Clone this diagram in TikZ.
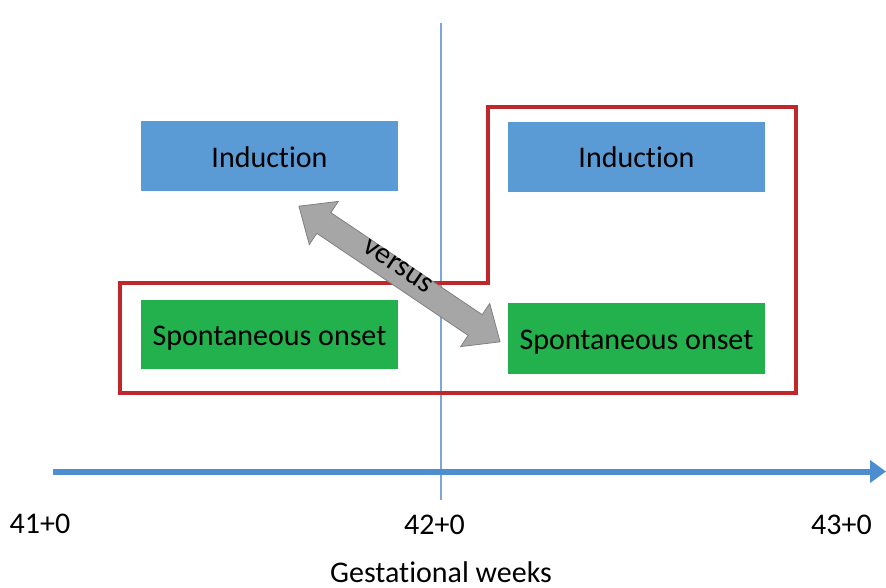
\documentclass[tikz,border=0pt]{standalone}
\usepackage{fontspec}
\setmainfont{Carlito}[Ligatures=NoCommon]
\usetikzlibrary{arrows.meta}
\definecolor{boxblue}{RGB}{91,155,213}
\definecolor{boxgreen}{RGB}{34,177,76}
\definecolor{outlinered}{RGB}{192,39,45}
\definecolor{axisblue}{RGB}{76,142,207}
\definecolor{thinblue}{RGB}{125,167,216}
\definecolor{arrowgray}{RGB}{166,166,166}
\definecolor{arrowedge}{RGB}{128,128,128}
\tikzset{
  bigfont/.style={font=\fontsize{30}{35}\selectfont},
  blockbox/.style={bigfont, minimum width=257pt, inner sep=0pt, text height=22pt, text depth=0pt, text=black},
  indbox/.style={blockbox, fill=boxblue, minimum height=70pt},
  sponbox/.style={blockbox, fill=boxgreen, minimum height=69pt},
  axlabel/.style={bigfont, anchor=base, inner sep=0pt},
}
\begin{document}
\begin{tikzpicture}[x=1pt,y=-1pt]
\useasboundingbox[fill=white] (0,0) rectangle (886,587);
% thin vertical line at 42+0
\coordinate (vtop) at (441,23);
\coordinate (vbot) at (441,500);
\draw[thinblue, line width=1.1pt] (vtop) -- (vbot);
% boxes
\node[indbox] (indL) at (269.5,156) {Induction};
\node[sponbox] (spoL) at (269.5,334) {Spontaneous onset};
\node[indbox] (indR) at (636.5,156.5) {Induction};
\node[sponbox, minimum height=71pt] (spoR) at (636.5,338.5) {Spontaneous onset};
% red outline
\draw[outlinered, line width=3.5pt, line join=miter]
  (120,283) -- (488,283) -- (488,107) -- (796,107) -- (796,393) -- (120,393) -- cycle;
% gray double block arrow
\begin{scope}[shift={(399.5,274)}, rotate=-34]
  \draw[fill=arrowgray, draw=arrowedge, line width=0.8pt, line join=miter]
    (-121.3,0) -- (-91.3,26) -- (-91.3,12.5) -- (91.3,12.5) -- (91.3,26) -- (121.3,0)
    -- (91.3,-26) -- (91.3,-12.5) -- (-91.3,-12.5) -- (-91.3,-26) -- cycle;
  \node[bigfont, inner sep=0pt, rotate=-34] (vs) at (-5.7,-5.8) {versus};
\end{scope}
% time axis
\coordinate (axs) at (53,471.5);
\coordinate (axe) at (886,471.5);
\draw[axisblue, line width=6pt, -{Triangle[length=16pt,width=22pt]}] (axs) -- (axe);
% labels
\node[axlabel] (l41) at (40,533) {41+0};
\node[axlabel] (l42) at (434.5,534) {42+0};
\node[axlabel] (l43) at (841.5,534) {43+0};
\node[axlabel] (gw) at (441,582) {Gestational weeks};
\end{tikzpicture}
\end{document}
